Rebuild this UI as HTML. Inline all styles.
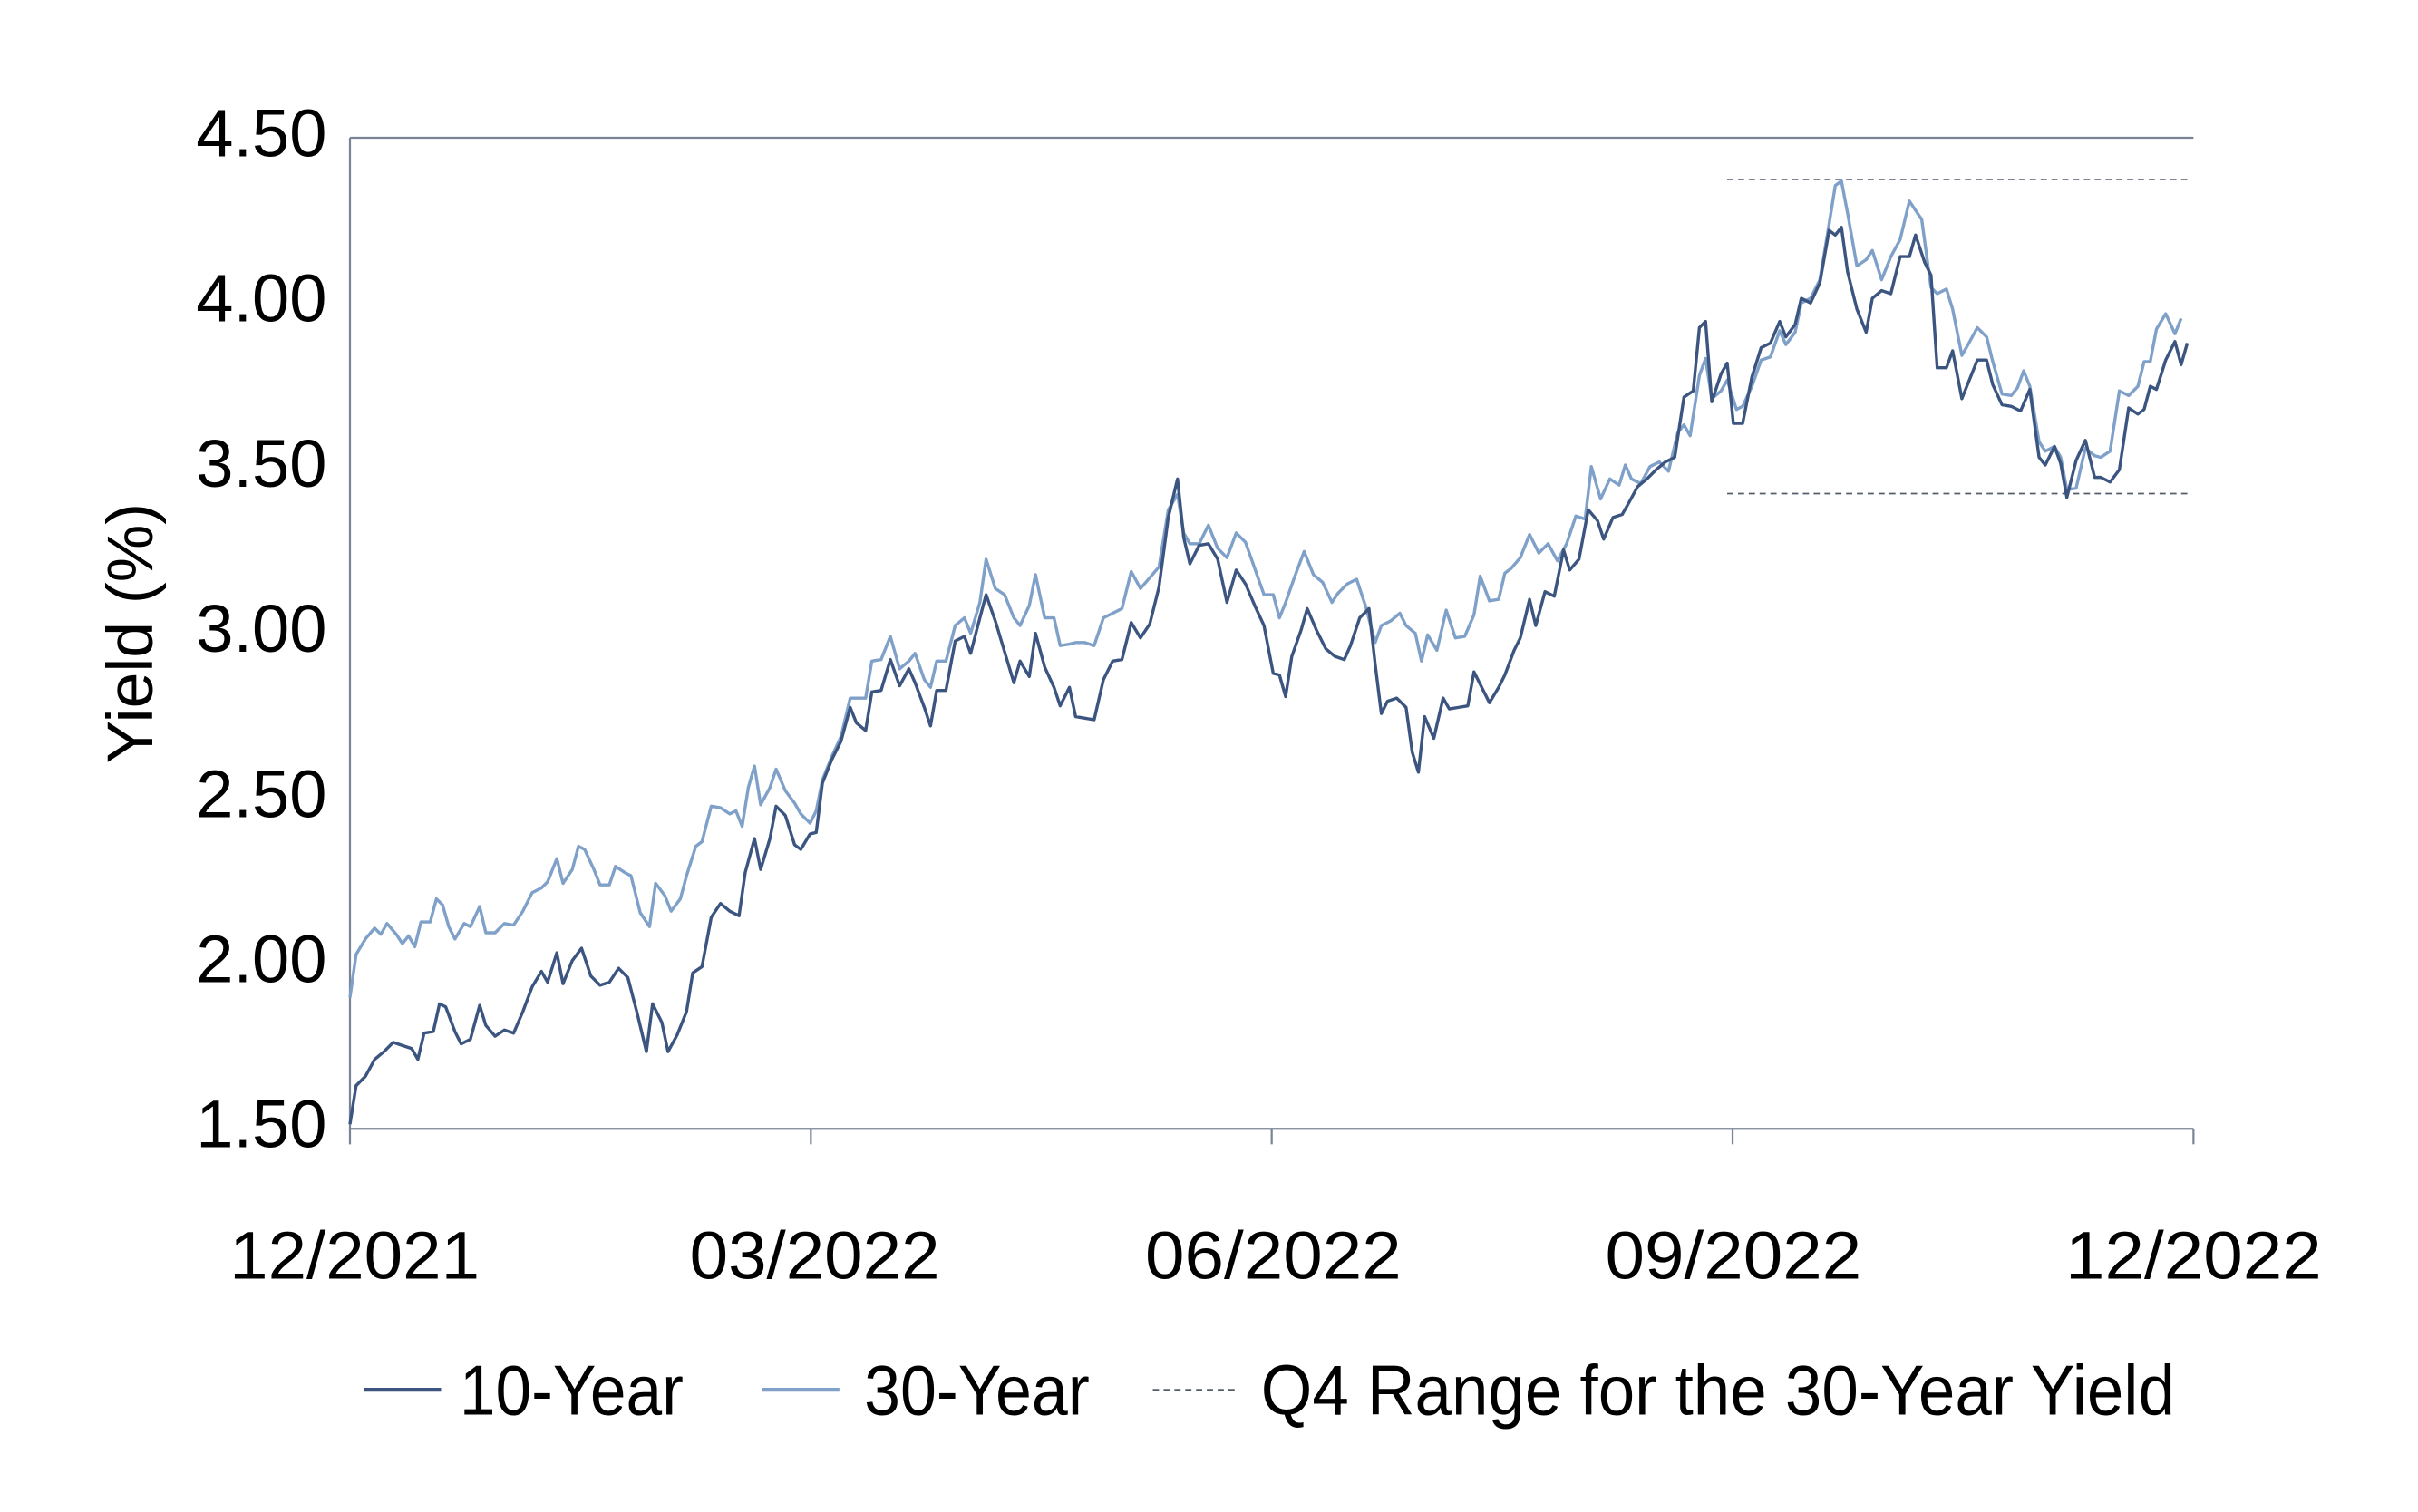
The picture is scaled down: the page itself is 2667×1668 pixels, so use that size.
<!DOCTYPE html>
<html><head><meta charset="utf-8"><style>
html,body{margin:0;padding:0;background:#fff;width:2667px;height:1668px;overflow:hidden}
svg{display:block}
text{font-family:"Liberation Sans",Arial,sans-serif;fill:#000}
</style></head><body>
<svg width="2667" height="1668" viewBox="0 0 2667 1668" xmlns="http://www.w3.org/2000/svg">
<g transform="matrix(1.703,0,0,1.703,-2.3,0.4)">
<!-- axes -->
<g stroke="#7a8496" stroke-width="1.3" fill="none">
<line x1="228" y1="89" x2="1422" y2="89"/>
<line x1="228" y1="89" x2="228" y2="741"/>
<line x1="228" y1="731" x2="1422" y2="731"/>
<line x1="526.5" y1="731" x2="526.5" y2="741"/>
<line x1="825" y1="731" x2="825" y2="741"/>
<line x1="1123.5" y1="731" x2="1123.5" y2="741"/>
<line x1="1422" y1="731" x2="1422" y2="741"/>
</g>
<!-- y labels -->
<g font-size="43.5" text-anchor="end">
<text x="213" y="101">4.50</text>
<text x="213" y="208">4.00</text>
<text x="213" y="315">3.50</text>
<text x="213" y="422">3.00</text>
<text x="213" y="529">2.50</text>
<text x="213" y="636">2.00</text>
<text x="213" y="743">1.50</text>
</g>
<text transform="translate(100,410) rotate(-90)" font-size="42" text-anchor="middle">Yield (%)</text>
<!-- x labels -->
<g font-size="43.5" text-anchor="middle">
<text x="231" y="828" textLength="162" lengthAdjust="spacingAndGlyphs">12/2021</text>
<text x="529" y="828" textLength="162" lengthAdjust="spacingAndGlyphs">03/2022</text>
<text x="826" y="828" textLength="166" lengthAdjust="spacingAndGlyphs">06/2022</text>
<text x="1124" y="828" textLength="166" lengthAdjust="spacingAndGlyphs">09/2022</text>
<text x="1422" y="828" textLength="166" lengthAdjust="spacingAndGlyphs">12/2022</text>
</g>
<!-- dashed range -->
<g stroke="#555d6b" stroke-width="1" stroke-dasharray="4,3">
<line x1="1120" y1="116" x2="1418" y2="116"/>
<line x1="1120" y1="319.5" x2="1418" y2="319.5"/>
</g>
<!-- 30-year -->
<polyline fill="none" stroke="#7fa0c8" stroke-width="2" stroke-linejoin="round" points="228,646 232,618 238,608 244,601 248,605 252,598 258,605 262,611 266,606 270,613 274,597 280,597 284,582 288,586 292,600 296,608 302,598 306,600 312,587 316,604 322,604 328,598 334,599 340,590 346,578 352,575 356,571 362,556 366,572 372,563 376,548 380,550 386,563 390,573 396,573 400,561 406,565 410,567 416,591 422,600 426,572 432,580 436,590 442,582 446,567 452,548 456,545 462,522 468,523 474,527 478,525 482,535 486,510 490,496 494,521 500,510 504,498 510,512 516,520 520,527 526,533 530,525 534,505 540,490 546,477 552,452 556,452 562,452 566,428 572,427 578,412 584,433 590,428 594,423 600,440 604,445 608,428 614,428 620,405 626,400 630,410 636,390 640,362 646,381 652,385 658,400 662,405 668,392 672,372 678,400 684,400 688,418 694,417 698,416 704,416 710,418 716,400 722,397 728,394 734,370 740,381 746,374 752,367 758,330 764,320 768,345 772,352 778,352 784,340 790,355 796,361 802,345 808,351 814,368 820,385 826,385 830,400 834,390 840,373 846,357 852,372 858,377 864,390 868,384 874,378 880,375 886,393 892,416 896,405 902,402 908,397 912,405 918,410 922,428 926,411 932,421 938,395 944,413 950,412 956,398 960,373 966,389 972,388 976,371 980,368 986,361 992,346 998,358 1004,352 1010,363 1016,352 1022,334 1028,336 1032,302 1038,323 1044,310 1050,314 1054,301 1058,310 1064,313 1070,302 1076,299 1082,305 1088,280 1092,275 1096,282 1102,243 1106,232 1110,258 1116,253 1120,246 1126,265 1130,263 1136,250 1142,233 1148,231 1154,214 1158,223 1164,215 1168,196 1174,193 1180,181 1186,145 1190,120 1194,117 1198,138 1204,172 1210,168 1214,162 1220,181 1226,166 1232,155 1238,130 1242,136 1246,142 1252,186 1256,190 1262,187 1266,200 1272,230 1276,223 1282,212 1288,218 1292,234 1298,255 1304,256 1308,251 1312,240 1316,250 1322,286 1326,292 1332,289 1336,296 1340,317 1346,316 1352,290 1358,295 1362,296 1368,292 1374,253 1380,256 1386,250 1390,234 1394,234 1398,213 1404,203 1410,216 1414,206"/>
<!-- 10-year -->
<polyline fill="none" stroke="#3b5580" stroke-width="2" stroke-linejoin="round" points="228,728 232,703 238,697 244,686 250,681 256,675 262,677 268,679 272,686 276,669 282,668 286,650 290,652 296,668 300,676 306,673 312,651 316,664 322,671 328,667 334,669 340,655 346,639 352,629 356,636 362,617 366,637 372,622 378,614 384,632 390,638 396,636 402,627 408,633 414,656 420,681 424,650 430,662 434,681 440,670 446,655 450,630 456,626 462,594 468,585 474,590 480,593 484,565 490,543 494,563 500,543 504,522 510,528 516,547 520,550 526,540 530,539 534,507 540,492 546,480 552,458 556,468 562,473 566,448 572,447 578,427 584,444 590,433 594,442 600,458 604,470 608,447 614,447 620,415 626,412 630,423 636,400 640,385 646,402 652,422 658,442 662,428 668,438 672,410 678,432 684,445 688,457 694,445 698,464 704,465 710,466 716,440 722,428 728,427 734,403 740,413 746,404 752,380 758,335 764,310 768,348 772,365 778,353 784,352 790,362 796,390 802,369 808,378 814,392 820,405 826,436 830,437 834,451 838,425 844,408 848,394 854,408 860,420 866,425 872,427 876,418 882,400 888,394 892,430 896,462 900,454 906,452 912,458 916,487 920,500 924,464 930,478 936,452 940,459 946,458 952,457 956,435 962,447 966,455 972,445 976,437 982,421 986,413 992,388 996,405 1002,383 1008,386 1014,356 1018,369 1024,362 1030,330 1036,337 1040,349 1046,335 1052,333 1056,326 1062,315 1068,310 1074,304 1080,299 1086,296 1092,257 1098,253 1102,212 1106,208 1110,260 1116,242 1120,235 1124,274 1130,274 1136,244 1142,225 1148,222 1154,208 1158,218 1164,210 1168,193 1174,196 1180,183 1186,149 1190,152 1194,147 1198,176 1204,200 1210,215 1214,193 1220,188 1226,190 1232,166 1238,166 1242,152 1248,170 1252,178 1256,238 1262,238 1266,227 1272,258 1276,248 1282,233 1288,233 1292,249 1298,262 1304,263 1310,266 1316,252 1322,296 1326,301 1332,289 1336,300 1340,322 1346,298 1352,285 1358,309 1362,309 1368,312 1374,304 1380,264 1386,268 1390,265 1394,250 1398,252 1404,233 1410,221 1414,236 1418,222"/>
<!-- legend -->
<line x1="237" y1="900" x2="287" y2="900" stroke="#3b5580" stroke-width="2.5"/>
<line x1="495" y1="900" x2="545" y2="900" stroke="#7fa0c8" stroke-width="2.5"/>
<line x1="748" y1="900" x2="803" y2="900" stroke="#555d6b" stroke-width="1" stroke-dasharray="4,3"/>
<g font-size="46">
<text x="299" y="916" textLength="145" lengthAdjust="spacingAndGlyphs">10-Year</text>
<text x="561" y="916" textLength="146" lengthAdjust="spacingAndGlyphs">30-Year</text>
<text x="818" y="916" textLength="592" lengthAdjust="spacingAndGlyphs">Q4 Range for the 30-Year Yield</text>
</g>
</g>
</svg>
</body></html>
